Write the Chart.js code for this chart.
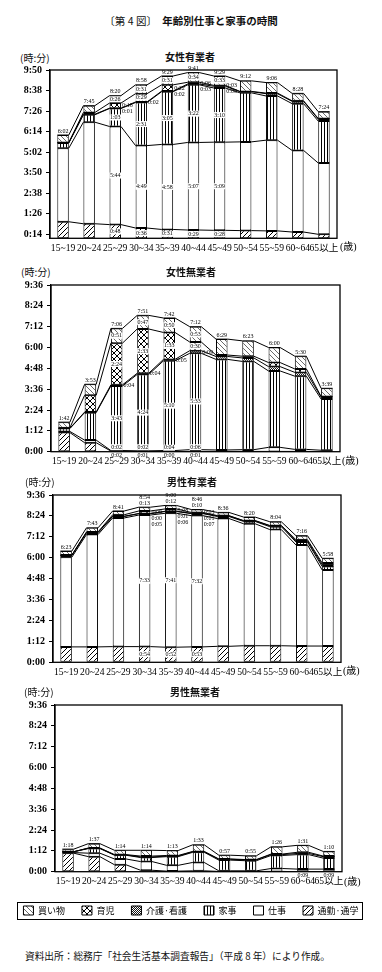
<!DOCTYPE html>
<html><head><meta charset="utf-8">
<script src="https://cdn.jsdelivr.net/npm/chart.js"></script>
<style>
html,body{margin:0;padding:0;background:#fff;}
#page{position:relative;width:382px;height:972px;overflow:hidden;font-family:'Noto Sans CJK JP',sans-serif;color:#111;}
.t{position:absolute;white-space:nowrap;line-height:10px;font-size:10px;}
.age{position:absolute;white-space:nowrap;line-height:10px;font-size:10px;font-family:'Liberation Serif','Noto Sans CJK JP',serif;color:#000;}
canvas{position:absolute;left:0;}
</style></head><body>
<div id="page">
<div class="t" style="left:0;width:382px;text-align:center;top:15px;font-size:10.5px;line-height:11px;">〔第 4 図〕　<b>年齢別仕事と家事の時間</b></div>

<div class="t" style="left:20px;top:53px;">(時:分)</div>
<div class="t" style="left:165px;top:52px;font-weight:bold;">女性有業者</div>
<canvas id="c1" width="382" height="200" style="top:60px;width:382px;height:200px"></canvas>
<div class="age" style="left:340px;top:242px;">(歳)</div>

<div class="t" style="left:21px;top:267px;">(時:分)</div>
<div class="t" style="left:166px;top:267px;font-weight:bold;">女性無業者</div>
<canvas id="c2" width="382" height="200" style="top:275px;width:382px;height:200px"></canvas>
<div class="age" style="left:342px;top:456px;">(歳)</div>

<div class="t" style="left:25px;top:477px;">(時:分)</div>
<div class="t" style="left:167px;top:477px;font-weight:bold;">男性有業者</div>
<canvas id="c3" width="382" height="200" style="top:485px;width:382px;height:200px"></canvas>
<div class="age" style="left:343px;top:666px;">(歳)</div>

<div class="t" style="left:24px;top:687px;">(時:分)</div>
<div class="t" style="left:170px;top:687px;font-weight:bold;">男性無業者</div>
<canvas id="c4" width="382" height="230" style="top:695px;width:382px;height:230px"></canvas>
<div class="age" style="left:344px;top:877px;">(歳)</div>

<div class="t" style="left:25px;top:951px;font-size:9.7px;">資料出所：総務庁「社会生活基本調査報告」（平成 8 年）により作成。</div>
</div>
<script>
// ---------- data (minutes) ----------
const ageLabels = ['15~19','20~24','25~29','30~34','35~39','40~44','45~49','50~54','55~59','60~64','65以上'];
const seriesNames = ['通勤·通学','仕事','家事','介護·看護','育児','買い物'];

// 女性有業者
const fEmpCommute = [58,51,48,36,31,29,28,27,26,22,14];
const fEmpWork    = [258,356,344,289,298,307,309,311,318,286,250];
const fEmpHouse   = [18,26,63,151,185,202,190,172,155,164,147];
const fEmpCare    = [1,2,1,2,2,3,6,4,8,8,7];
const fEmpChild   = [1,6,18,29,22,6,3,1,2,2,2];
const fEmpShop    = [26,24,26,31,31,34,33,37,37,26,24];
const fEmpTicks   = ['0:14','1:26','2:38','3:50','5:02','6:14','7:26','8:38','9:50'];

// 女性無業者
const fNonCommute = [66,31,2,1,0,1,1,1,1,1,0];
const fNonWork    = [4,9,2,2,4,6,5,6,14,7,5];
const fNonHouse   = [10,95,223,264,310,333,313,305,264,253,177];
const fNonCare    = [1,2,4,4,5,9,10,12,15,13,7];
const fNonChild   = [2,58,144,153,93,30,5,6,14,12,2];
const fNonShop    = [19,38,51,47,50,53,55,53,52,44,28];

// 男性有業者
const mEmpCommute = [53,53,54,54,52,53,55,57,57,56,56];
const mEmpWork    = [309,387,443,453,461,452,440,420,400,348,262];
const mEmpHouse   = [6,6,5,5,6,7,7,8,10,10,12];
const mEmpCare    = [1,1,1,0,1,1,2,2,3,4,6];
const mEmpChild   = [0,2,5,9,8,3,1,1,1,4,6];
const mEmpShop    = [14,14,13,13,12,10,11,12,13,14,16];

// 男性無業者
const mNonCommute = [64,52,24,5,2,3,1,1,1,0,0];
const mNonWork    = [2,12,20,30,20,29,2,2,10,9,9];
const mNonHouse   = [3,16,13,14,30,35,37,35,45,50,38];
const mNonCare    = [0,1,1,2,2,2,3,3,3,4,5];
const mNonChild   = [0,1,1,3,2,1,1,1,2,4,2];
const mNonShop    = [9,15,15,20,17,23,13,13,25,24,16];

const stdTicks = ['0:00','1:12','2:24','3:36','4:48','6:00','7:12','8:24','9:36'];

// ---------- helpers ----------
const SERIF = "'Liberation Serif','Noto Sans CJK JP',serif";
const fmt = m => Math.floor(m/60) + ':' + String(Math.round(m%60)).padStart(2,'0');
const parseHM = s => { const p = s.split(':').map(Number); return p[0]*60 + p[1]; };
const BAR_FRAC = 0.44;
const HALF = BAR_FRAC/2;

function makePattern(ctx, kind){
  const s = {shop:5, child:6, care:2, house:3, commute:5}[kind];
  const c = document.createElement('canvas'); c.width = s; c.height = s;
  const g = c.getContext('2d');
  g.fillStyle = '#fff'; g.fillRect(0,0,s,s);
  if (kind === 'house') { g.fillStyle = '#000'; g.fillRect(0,0,1,s); }
  else if (kind === 'care') { g.fillStyle = '#111'; g.fillRect(0,0,1,1); g.fillRect(1,1,1,1); }
  else {
    const dirs = kind === 'shop' ? ['\\'] : kind === 'commute' ? ['/'] : ['/','\\'];
    g.strokeStyle = kind === 'shop' ? '#444' : '#000';
    g.lineWidth = kind === 'shop' ? 0.8 : 1;
    dirs.forEach(d => {
      g.beginPath();
      [-s,0,s].forEach(o => {
        if (d === '/') { g.moveTo(o, s); g.lineTo(o+s, 0); }
        else { g.moveTo(o, 0); g.lineTo(o+s, s); }
      });
      g.stroke();
    });
  }
  return ctx.createPattern(c, 'repeat');
}

const valuePlugin = {
  id: 'vals',
  afterDatasetsDraw(chart, args, o) {
    const ctx = chart.ctx;
    const bars = chart.data.datasets.map((d,i)=>i).filter(i => chart.data.datasets[i].type !== 'line');
    const n = chart.data.labels.length;
    const full = o.full || [], below = o.below || [];
    ctx.save();
    ctx.font = '6px ' + SERIF;
    ctx.textBaseline = 'middle';
    const put = (t, x, y, align, bg) => {
      ctx.textAlign = align;
      if (bg) {
        const w = ctx.measureText(t).width;
        const lx = align === 'center' ? x - w/2 : x;
        ctx.fillStyle = '#fff'; ctx.fillRect(lx-0.5, y-3, w+1, 6);
      }
      ctx.fillStyle = '#000';
      ctx.fillText(t, x, y);
    };
    for (let j = 0; j < n; j++) {
      const segs = bars.map(di => {
        const el = chart.getDatasetMeta(di).data[j];
        return {v: chart.data.datasets[di].data[j], top: el.y, base: el.base, x: el.x, w: el.width};
      });
      const total = segs.reduce((a,s)=>a+s.v, 0);
      const x = segs[0].x, hw = segs[0].w/2;
      const topY = Math.min(...segs.map(s=>s.top));
      const last = segs.length - 1;
      const small = s => (s.base - s.top) < 7;
      const isFull = full.includes(j);
      if (isFull && small(segs[last])) {
        put(fmt(segs[last].v), x, topY-4, 'center');
        put(fmt(total), x, topY-10, 'center');
      } else put(fmt(total), x, topY-4, 'center');
      if (isFull) {
        const right = [];
        segs.forEach((s,k) => {
          if (!small(s)) { put(fmt(s.v), x, (s.top+s.base)/2, 'center', true); return; }
          if (k === last) return;
          if (k === 0) { put(fmt(s.v), x, s.base+4, 'center'); return; }
          if (k === 1 && small(segs[0])) { put(fmt(s.v), x, segs[0].base-4, 'center', true); return; }
          right.push({t: fmt(s.v), y: (s.top+s.base)/2});
        });
        right.sort((a,b)=>a.y-b.y);
        let prev = -1e9;
        right.forEach(r => { const y = Math.max(r.y, prev+6); put(r.t, x+hw+1, y, 'left'); prev = y; });
      }
      if (below.includes(j)) put(fmt(segs[1].v), x, segs[0].base+4, 'center');
    }
    ctx.restore();
  }
};

const framePlugin = {
  id: 'frame',
  afterDraw(chart) {
    const {ctx, chartArea: a} = chart;
    ctx.save();
    ctx.strokeStyle = '#000'; ctx.lineWidth = 1.3;
    ctx.strokeRect(a.left, a.top, a.right-a.left, a.bottom-a.top);
    if (chart.options.plugins.legend.display) {
      const hb = chart.legend.legendHitBoxes;
      if (hb && hb.length) {
        const l = hb[0].left - 6, r = hb[hb.length-1].left + hb[hb.length-1].width + 4;
        const t = hb[0].top - 4, h = hb[0].height + 8;
        ctx.lineWidth = 1;
        ctx.strokeRect(Math.round(l)+0.5, Math.round(t)+0.5, Math.round(r-l), Math.round(h));
      }
    }
    ctx.restore();
  }
};

function build(id, segArrays, tickLabels, lay, extra) {
  const canvas = document.getElementById(id);
  const ctx = canvas.getContext('2d');
  const kinds = ['commute','work','house','care','child','shop'];
  const fills = kinds.map(k => k === 'work' ? '#fff' : makePattern(ctx, k));
  const tickVals = tickLabels.map(parseHM);
  const n = ageLabels.length;
  const barSets = segArrays.map((arr,k) => ({
    type: 'bar', label: seriesNames[k], data: arr, xAxisID: 'x', yAxisID: 'y',
    backgroundColor: fills[k], borderColor: '#000', borderWidth: 1, borderSkipped: false,
    barPercentage: BAR_FRAC, categoryPercentage: 1, grouped: false, order: 0, stack: 'bars'
  }));
  const lineSets = segArrays.map((arr,k) => ({
    type: 'line', label: 'l'+k, xAxisID: 'xl', yAxisID: 'y', stack: 'lines', order: 1,
    data: arr.flatMap((v,i) => [{x: i-HALF, y: v}, {x: i+HALF, y: v}]),
    borderColor: '#000', borderWidth: 1, pointRadius: 0, fill: false, tension: 0
  }));
  const legendOn = !!extra.legend;
  return new Chart(canvas, {
    type: 'bar',
    data: {labels: ageLabels, datasets: barSets.concat(lineSets)},
    options: {
      responsive: false, animation: false, events: [],
      layout: {padding: {top: 10, left: 0, right: 0, bottom: 0}},
      plugins: {
        tooltip: {enabled: false},
        legend: legendOn ? {
          display: true, position: 'bottom', reverse: true,
          labels: {
            boxWidth: 10, boxHeight: 9, padding: 17, color: '#000',
            font: {family: "'Noto Sans CJK JP',sans-serif", size: 9},
            filter: (item, data) => data.datasets[item.datasetIndex].type !== 'line'
          }
        } : {display: false},
        vals: {full: extra.full || [], below: extra.below || []}
      },
      scales: {
        x: {
          type: 'category', stacked: true, offset: true,
          grid: {display: false, drawTicks: false}, border: {display: false},
          ticks: {autoSkip: false, maxRotation: 0, minRotation: 0, padding: 4, color: '#000',
                  font: {family: SERIF, size: 9.6}},
          afterFit: s => { s.height = lay.xH; }
        },
        xl: {type: 'linear', min: -0.5, max: n - 0.5, display: false, offset: false, bounds: 'data', grace: 0},
        y: {
          type: 'linear', stacked: true, min: 0, max: tickVals[tickVals.length-1],
          afterBuildTicks: s => { s.ticks = tickVals.map(v => ({value: v})); },
          ticks: {callback: v => fmt(v), color: '#000', padding: 4,
                  font: {family: SERIF, size: 10, weight: 'bold'}},
          grid: {display: true, drawOnChartArea: false, drawTicks: true, tickLength: 4, color: '#000', lineWidth: 1},
          border: {display: true, color: '#000', width: 1.2},
          afterFit: s => { s.width = lay.left; }
        },
        yR: {
          type: 'linear', position: 'right', display: true,
          grid: {display: false}, ticks: {display: false}, border: {display: false},
          afterFit: s => { s.width = 382 - lay.right; }
        }
      }
    },
    plugins: [valuePlugin, framePlugin]
  });
}

build('c1', [fEmpCommute, fEmpWork, fEmpHouse, fEmpCare, fEmpChild, fEmpShop], fEmpTicks,
      {left: 50, right: 337, xH: 21.7}, {full: [2,3,4,5,6]});
build('c2', [fNonCommute, fNonWork, fNonHouse, fNonCare, fNonChild, fNonShop], stdTicks,
      {left: 51, right: 340, xH: 23.3}, {full: [2,3,4,5]});
build('c3', [mEmpCommute, mEmpWork, mEmpHouse, mEmpCare, mEmpChild, mEmpShop], stdTicks,
      {left: 53, right: 341, xH: 22.7}, {full: [3,4,5]});
build('c4', [mNonCommute, mNonWork, mNonHouse, mNonCare, mNonChild, mNonShop], stdTicks,
      {left: 55, right: 342, xH: 17.3}, {legend: true, below: [9,10]});
</script>
</body></html>
